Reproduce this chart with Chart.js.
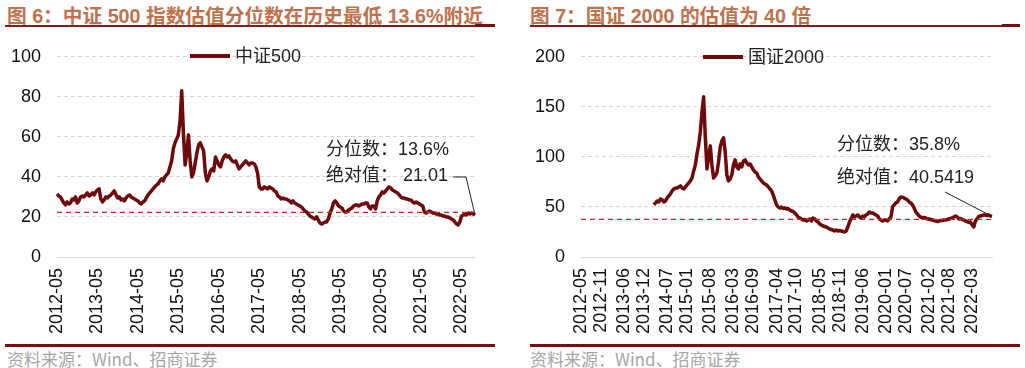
<!DOCTYPE html>
<html><head><meta charset="utf-8">
<script src="https://cdn.jsdelivr.net/npm/chart.js@4.4.1/dist/chart.umd.min.js"></script>
<style>
html,body{margin:0;padding:0;background:#fff;}
body{width:1025px;height:368px;position:relative;overflow:hidden;font-family:"Liberation Sans","Noto Sans CJK SC",sans-serif;}
.title{position:absolute;top:0px;font-weight:bold;color:#C0714B;font-size:19.7px;white-space:nowrap;}
.uline{position:absolute;top:25px;height:2px;background:#8B1A1A;}
.uend{position:absolute;top:24px;height:3px;background:#7A0E0E;}
.bar{position:absolute;top:344px;height:3px;background:#7A0E0E;}
.src{position:absolute;top:346px;color:#A6A6A6;font-size:17px;white-space:nowrap;font-family:"Noto Sans CJK SC","Liberation Sans",sans-serif;}
.box{position:absolute;top:30px;width:510px;height:314px;}
</style>
</head><body>
<div class="title" style="left:7px">图 6：中证 500 指数估值分位数在历史最低 13.6%附近</div>
<div class="uline" style="left:5px;width:490px"></div>
<div class="uend" style="left:475px;width:20px"></div>
<div class="title" style="left:530px">图 7：国证 2000 的估值为 40 倍</div>
<div class="uline" style="left:530px;width:490px"></div>
<div class="uend" style="left:1002px;width:18px"></div>
<div class="box" style="left:0"><canvas id="c1" width="510" height="314"></canvas></div>
<div class="box" style="left:515px"><canvas id="c2" width="510" height="314"></canvas></div>
<div class="bar" style="left:5px;width:490px"></div>
<div class="bar" style="left:530px;width:490px"></div>
<div class="src" style="left:7px">资料来源：Wind、招商证券</div>
<div class="src" style="left:530px">资料来源：Wind、招商证券</div>
<script>
// ---- categories: half-month periods from 2012-05 to 2022-09 ----
const startYear = 2012, startMonth = 5, monthCount = 124;
const periods = [];
for (let i = 0; i < monthCount; i++) {
  const m = startMonth - 1 + i;
  const y = startYear + Math.floor(m / 12);
  const mm = (m % 12) + 1;
  const ym = y + '-' + (mm < 10 ? '0' + mm : '' + mm);
  periods.push(ym + '-01', ym + '-16');
}
periods.push('2022-09-01');

const zz500Ticks = ['2012-05','2013-05','2014-05','2015-05','2016-05','2017-05','2018-05','2019-05','2020-05','2021-05','2022-05'];
const gz2000Ticks = ['2012-05','2012-11','2013-06','2013-12','2014-07','2015-01','2015-08','2016-03','2016-09','2017-04','2017-10','2018-05','2018-11','2019-06','2020-01','2020-07','2021-02','2021-08','2022-03'];

// 中证500 PE (two values per month)
const zz500 = [
  31.5,30.5, 30,28.5, 27,26, 27.5,26.5, 27,29, 28.5,30, 27,28, 30,30.5,
  30,31, 32,30.5, 31,32, 31,32.5, 33.5,34, 29,27.5, 28.5,30, 29.5,30.5, 31,32, 33,31, 29.5,30, 28.5,29,
  28,29.5, 30.5,31, 30,29.5, 29,28.5, 28,27, 26.5,27.5, 28,29.5, 31,32, 33,34, 35,36, 36.5,38, 39,38,
  40,41, 42,45, 48,54, 57,59, 61,68, 83,62, 46,52, 61,48, 40,42, 47,52, 56,57, 55,53,
  42,38, 40,43, 44,43, 50,48, 46,45, 48,50, 51,50, 50.5,49, 48,47.5, 48,46, 44,45, 46,47,
  48,47, 46,47, 47,46.5, 45,42, 35,34, 34,35, 34.5,34, 35,34.5, 34,33, 32.5,30.5, 30,29, 29.5,29,
  29,28.5, 28,27, 28,27, 26.5,26, 25.5,25, 24,23, 22.5,21.5, 20.5,20, 19.5,19, 20,18.5, 17,16.5, 17,17.5,
  17.5,19, 22,24, 27,28, 27,25.5, 25,24.5, 23,22.5, 22.5,23.5, 24,24.5, 25.5,26, 26,25.5, 26,26.5, 26.5,27,
  27,25, 24,25.5, 25.5,24, 28,30, 31,32.5, 32,33, 34,35, 34.5,33.5, 33,32.5, 32,31, 30,29.5, 29.5,29,
  29,28.5, 28.5,27.5, 27,27.5, 27,26.5, 26,25.5, 22.5,22, 22.5,23, 22.5,22, 22,21.5, 21.5,21, 21,20.5, 20.5,20,
  20,19.5, 19,18.5, 17.5,16.5, 16,17.5, 20.5,21, 21.5,21, 22,21.5, 22,21.5,
  21.01
];
// 国证2000 PE (two values per month, no data before 2014-03)
const gz2000 = [
  null,null, null,null, null,null, null,null, null,null, null,null, null,null, null,null,
  null,null, null,null, null,null, null,null, null,null, null,null, null,null, null,null, null,null, null,null, null,null, null,null,
  null,null, null,null, 52,54, 56,55, 58,57, 55,56, 59,61, 63,66, 68,69, 69,70, 71,69, 68,70,
  72,74, 76,79, 86,92, 103,112, 125,145, 160,120, 88,100, 111,92, 79,81, 84,95, 110,116, 119,105,
  82,76, 78,82, 92,97, 90,88, 93,90, 96,97, 94,92, 93,90, 87,85, 84,80, 78,76, 74,73,
  72,70, 68,66, 62,57, 52,50, 49,50, 48.5,49, 48,48.5, 47,46, 45.5,44, 42,40, 39,38, 37,37.5,
  36,37, 38,36, 39,38, 36,35, 33,32, 31,30.5, 30,29, 28,27.5, 27,26, 27,26, 26.5,26, 25.5,25,
  26,30, 35,38, 42,40, 41,42, 40,39, 41,40, 42,43, 45,44, 44,43, 42,41, 38,37, 36,37,
  37,36, 38,40, 50,52, 54,55, 58,60, 59.5,59, 58,57, 55,54, 52,49, 45,43, 41,40, 39,39.5,
  39,38, 38,37.5, 37,36.5, 36,35.5, 36,36.5, 36.5,37, 37,37.5, 38,38.5, 39,40, 41,40, 38,38.5, 37.5,37,
  36,35.5, 34.5,35, 32,30, 36,38, 40.5,41, 41.5,42, 42,41.5, 42,41,
  40.5419
];
const zz500Ref = 22.3;
const gz2000Ref = 37.6;
const zz500Notes = ['分位数：13.6%', '绝对值： 21.01'];
const gz2000Notes = ['分位数：35.8%', '绝对值：40.5419'];

// ---- chart ----
const FONT = '"Liberation Sans","Noto Sans CJK SC",sans-serif';
const LINE = '#6E0A0A';

const overlay = {
  id: 'overlay',
  afterDatasetsDraw(chart, args, o) {
    const ctx = chart.ctx, ca = chart.chartArea, ys = chart.scales.y;
    ctx.save();
    const ry = ys.getPixelForValue(o.ref);
    ctx.strokeStyle = '#D02020'; ctx.lineWidth = 1.3; ctx.setLineDash([5, 4]);
    ctx.beginPath(); ctx.moveTo(ca.left, ry); ctx.lineTo(ca.right, ry); ctx.stroke();
    ctx.setLineDash([]);
    ctx.strokeStyle = LINE; ctx.lineWidth = 4;
    ctx.beginPath(); ctx.moveTo(o.legX, o.legY); ctx.lineTo(o.legX + 40, o.legY); ctx.stroke();
    ctx.fillStyle = '#222'; ctx.font = '18px ' + FONT; ctx.textBaseline = 'middle'; ctx.textAlign = 'left';
    ctx.fillText(o.legText, o.legX + 45, o.legY + 1);
    ctx.fillText(o.notes[0], o.noteX, o.noteY1);
    ctx.fillText(o.notes[1], o.noteX, o.noteY2);
    const w = ctx.measureText(o.notes[1]).width;
    const meta = chart.getDatasetMeta(0);
    const pt = meta.data[meta.data.length - 1];
    ctx.strokeStyle = '#222'; ctx.lineWidth = 1;
    ctx.beginPath();
    if (o.hook) {
      ctx.moveTo(o.noteX + w + 5, o.noteY2 + 1);
      ctx.lineTo(o.noteX + w + 18, o.noteY2 + 1);
    } else {
      ctx.moveTo(o.noteX + 108, o.noteY2 + 14);
    }
    ctx.lineTo(pt.x, pt.y);
    ctx.stroke();
    ctx.restore();
  }
};

function makeChart(id, data, label, ticks, yMax, yStep, yWidth, padRight, ov) {
  const tickSet = new Set(ticks);
  return new Chart(document.getElementById(id), {
    type: 'line',
    data: { labels: periods, datasets: [{ label, data, borderColor: LINE, borderWidth: 3.5, pointRadius: 0, tension: 0, spanGaps: false, borderJoinStyle: 'round' }] },
    options: {
      responsive: false, animation: false,
      layout: { padding: { top: 15, right: padRight, left: 0, bottom: 0 } },
      plugins: { legend: { display: false }, tooltip: { enabled: false }, overlay: ov },
      scales: {
        x: {
          type: 'category', offset: false,
          grid: { display: false, drawTicks: false },
          border: { display: true, color: '#D9D9D9', width: 1 },
          ticks: {
            autoSkip: false, minRotation: 90, maxRotation: 90, padding: 11, color: '#111', font: { family: FONT, size: 18 },
            callback(v) { return periods[v].slice(0, 7); }
          },
          afterBuildTicks(s) { s.ticks = s.ticks.filter(t => periods[t.value].endsWith('-01') && tickSet.has(periods[t.value].slice(0, 7))); },
          afterFit(s) { s.height = 87; }
        },
        y: {
          min: 0, max: yMax,
          grid: { color: '#D4D4D4', lineWidth: 1, drawTicks: false },
          border: { display: false, dash: [4, 3] },
          ticks: { stepSize: yStep, padding: 16, color: '#111', font: { family: FONT, size: 18 } },
          afterFit(s) { s.width = yWidth; }
        }
      }
    },
    plugins: [overlay]
  });
}

makeChart('c1', zz500, '中证500', zz500Ticks, 100, 20, 57, 35,
  { ref: zz500Ref, legX: 190, legY: 26, legText: '中证500', notes: zz500Notes, noteX: 326, noteY1: 120, noteY2: 146, hook: true });
makeChart('c2', gz2000, '国证2000', gz2000Ticks, 200, 50, 66, 33,
  { ref: gz2000Ref, legX: 188, legY: 27, legText: '国证2000', notes: gz2000Notes, noteX: 322, noteY1: 115, noteY2: 148, hook: false });
</script>
</body></html>
